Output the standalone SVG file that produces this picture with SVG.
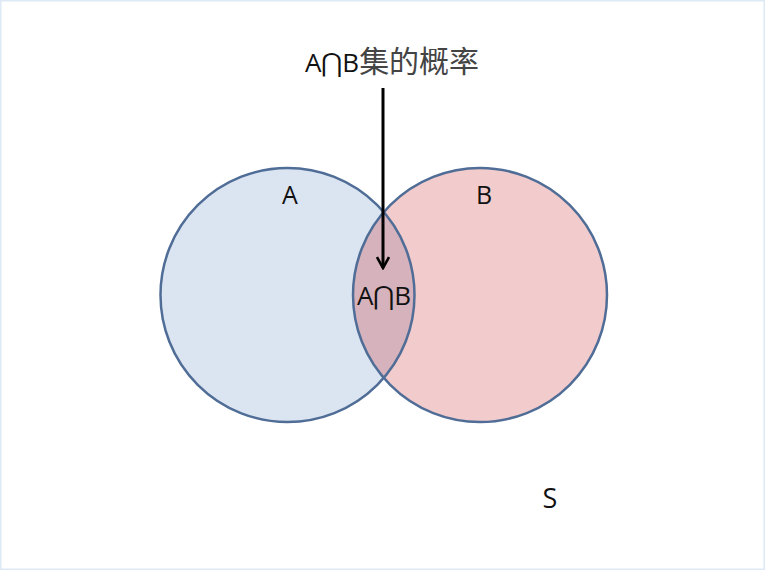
<svg xmlns="http://www.w3.org/2000/svg" width="765" height="570" viewBox="0 0 765 570">
<defs>
<style>
.lbl{font-family:"Open Sans","Noto Sans CJK SC",sans-serif;fill:#111;text-anchor:middle}
.ring{fill:none;stroke:#4f6d96;stroke-width:2.5}
</style>
<clipPath id="clipA"><circle cx="287.5" cy="295" r="127"/></clipPath>
<marker id="arr" viewBox="0 0 14 14" refX="12" refY="7" markerWidth="14" markerHeight="14" markerUnits="userSpaceOnUse" orient="auto">
<path d="M1,1 L12,7 L1,13" fill="none" stroke="#000" stroke-width="2.6"/>
</marker>
</defs>
<rect x="0" y="0" width="765" height="570" fill="#ffffff"/>
<rect x="0.75" y="0.75" width="763.5" height="568.5" fill="none" stroke="#dde9f5" stroke-width="1.5"/>
<g id="circleA">
<circle cx="287.5" cy="295" r="127" fill="#dbe5f1"/>
</g>
<g id="circleB">
<circle cx="480" cy="295" r="127" fill="#f2cbcc"/>
</g>
<g id="intersection">
<circle cx="480" cy="295" r="127" fill="#d5b2bc" clip-path="url(#clipA)"/>
</g>
<circle class="ring" cx="287.5" cy="295" r="127"/>
<circle class="ring" cx="480" cy="295" r="127"/>
<text class="lbl" x="290" y="204" font-size="25">A</text>
<text class="lbl" x="484" y="204" font-size="25">B</text>
<text class="lbl" x="384" y="305" font-size="26">A⋂B</text>
<g id="title">
<text class="lbl" x="392" y="72" font-size="26">A⋂B<tspan fill="#444" font-size="30">集的概率</tspan></text>
</g>
<g id="connectors">
<line x1="383" y1="88" x2="383" y2="268" stroke="#000" stroke-width="3" marker-end="url(#arr)"/>
</g>
<text class="lbl" x="550" y="508" font-size="27">S</text>
</svg>
